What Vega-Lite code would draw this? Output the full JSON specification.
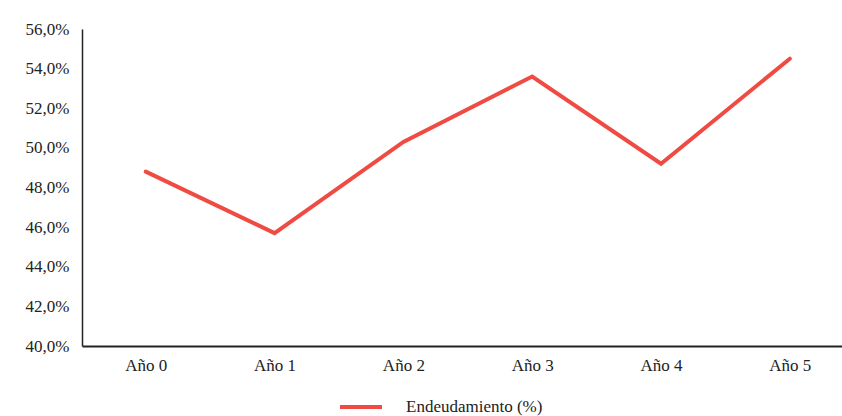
{
  "$schema": "https://vega.github.io/schema/vega-lite/v6.json",
  "autosize": "none",
  "width": 760,
  "height": 317,
  "padding": {"left": 82, "top": 29, "right": 0, "bottom": 70},
  "background": "white",
  "config": {
    "locale": {"number": {"decimal": ",", "thousands": ".", "grouping": [3], "currency": ["", " €"]}},
    "view": {"stroke": null},
    "font": "Liberation Serif"
  },
  "data": {
    "values": [
      {"anio": "Año 0", "valor": 0.488, "serie": "Endeudamiento (%)"},
      {"anio": "Año 1", "valor": 0.457, "serie": "Endeudamiento (%)"},
      {"anio": "Año 2", "valor": 0.503, "serie": "Endeudamiento (%)"},
      {"anio": "Año 3", "valor": 0.536, "serie": "Endeudamiento (%)"},
      {"anio": "Año 4", "valor": 0.492, "serie": "Endeudamiento (%)"},
      {"anio": "Año 5", "valor": 0.545, "serie": "Endeudamiento (%)"}
    ]
  },
  "mark": {"type": "line", "strokeWidth": 4, "strokeCap": "round", "strokeJoin": "miter"},
  "encoding": {
    "x": {
      "field": "anio", "type": "ordinal", "sort": null,
      "scale": {"type": "point", "padding": 0.45, "align": 0.55},
      "axis": {"title": null, "labelAngle": 0, "ticks": false, "grid": false, "domainColor": "#222", "domainWidth": 2, "labelFont": "Liberation Serif", "labelFontSize": 17, "labelColor": "#222", "labelPadding": 11}
    },
    "y": {
      "field": "valor", "type": "quantitative",
      "scale": {"domain": [0.4, 0.56], "nice": false, "zero": false},
      "axis": {"title": null, "values": [0.4, 0.42, 0.44, 0.46, 0.48, 0.5, 0.52, 0.54, 0.56], "format": ".1%", "ticks": false, "grid": false, "domainColor": "#222", "domainWidth": 1.5, "labelFont": "Liberation Serif", "labelFontSize": 17, "labelColor": "#222", "labelPadding": 13}
    },
    "color": {
      "field": "serie", "type": "nominal",
      "scale": {"range": ["#EF4B42"]},
      "legend": {"title": null, "orient": "none", "legendX": 256, "legendY": 355, "padding": 0, "symbolType": "stroke", "symbolSize": 1764, "symbolStrokeWidth": 4, "labelFont": "Liberation Serif", "labelFontSize": 17, "labelColor": "#222", "labelOffset": 22}
    }
  }
}
